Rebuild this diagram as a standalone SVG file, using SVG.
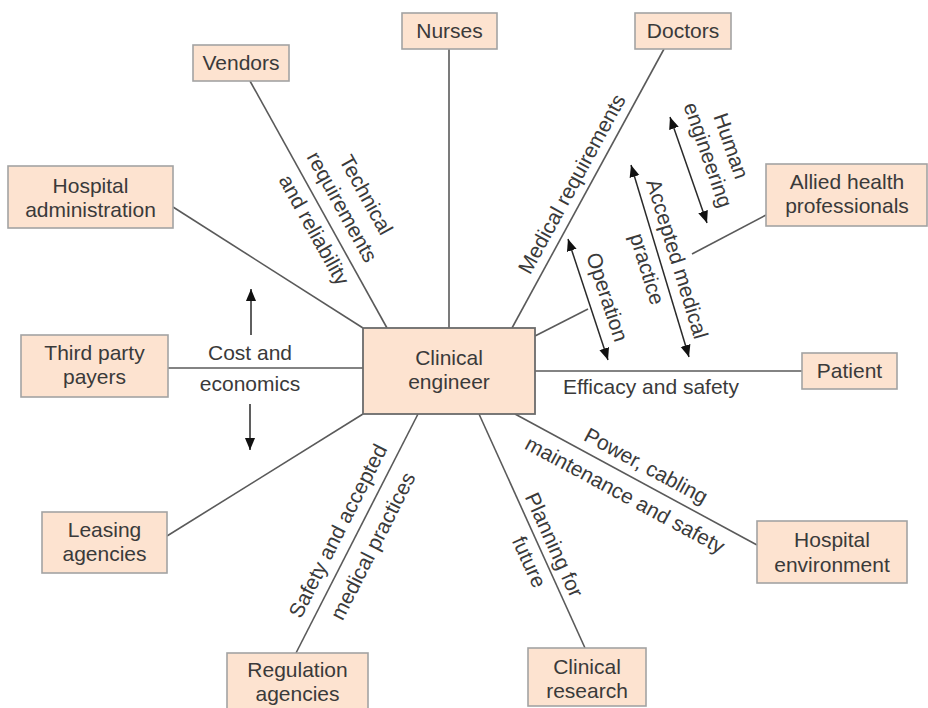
<svg xmlns="http://www.w3.org/2000/svg" width="928" height="708" viewBox="0 0 928 708">
<defs>
<style>
.box{fill:#fde3d0;stroke:#a3a3a3;stroke-width:1.6}
.cbox{fill:#fde3d0;stroke:#6b6b6b;stroke-width:1.8}
.t{font-family:"Liberation Sans",Arial,sans-serif;font-size:21px;fill:#3a3a3a;text-anchor:middle}
.ln{stroke:#5a5a5a;stroke-width:1.6;fill:none}
.ar{stroke:#2a2a2a;stroke-width:1.5;fill:none}
</style>
<marker id="ah" viewBox="0 0 10 10" refX="10" refY="5" markerWidth="12" markerHeight="12" markerUnits="userSpaceOnUse" orient="auto-start-reverse">
<path d="M0,0.8 L10,5 L0,9.2 z" fill="#111"/>
</marker>
</defs>
<rect width="928" height="708" fill="#fff"/>

<g id="connectors">
<line class="ln" x1="250" y1="81" x2="387" y2="328"/>
<line class="ln" x1="449" y1="49" x2="449" y2="328"/>
<line class="ln" x1="664" y1="49" x2="512" y2="328"/>
<line class="ln" x1="173" y1="207" x2="363" y2="328"/>
<line class="ln" x1="766" y1="215" x2="692" y2="254"/>
<line class="ln" x1="535" y1="336" x2="588" y2="309"/>
<line class="ln" x1="168" y1="368" x2="363" y2="368"/>
<line class="ln" x1="535" y1="371" x2="802" y2="371"/>
<line class="ln" x1="167" y1="536" x2="363" y2="414"/>
<line class="ln" x1="296" y1="653" x2="418" y2="414"/>
<line class="ln" x1="585" y1="648" x2="479" y2="414"/>
<line class="ln" x1="757" y1="545" x2="515" y2="414"/>
<line class="ar" x1="251" y1="335" x2="251" y2="289" marker-end="url(#ah)"/>
<line class="ar" x1="250" y1="404" x2="250" y2="450" marker-end="url(#ah)"/>
<line class="ar" x1="568" y1="239" x2="608" y2="360" marker-start="url(#ah)" marker-end="url(#ah)"/>
<line class="ar" x1="631" y1="165" x2="689" y2="357" marker-start="url(#ah)" marker-end="url(#ah)"/>
<line class="ar" x1="670" y1="117" x2="707" y2="223" marker-start="url(#ah)" marker-end="url(#ah)"/>
</g>

<g id="edge-labels">
<text class="t" transform="translate(366 195) rotate(61)" y="7">Technical</text>
<text class="t" transform="translate(342 207) rotate(61)" y="7">requirements</text>
<text class="t" transform="translate(314 230) rotate(61)" y="7">and reliability</text>
<text class="t" transform="translate(572 184) rotate(-61.4)" y="7">Medical requirements</text>
<text class="t" transform="translate(731 146) rotate(70.8)" y="7">Human</text>
<text class="t" transform="translate(708 155) rotate(70.8)" y="7">engineering</text>
<text class="t" transform="translate(677 259) rotate(73)" y="7">Accepted medical</text>
<text class="t" transform="translate(647 269) rotate(73)" y="7">practice</text>
<text class="t" transform="translate(607 297) rotate(71.7)" y="7">Operation</text>
<text class="t" x="250" y="360">Cost and</text>
<text class="t" x="250" y="391">economics</text>
<text class="t" x="651" y="394">Efficacy and safety</text>
<text class="t" transform="translate(646 466) rotate(28.4)" y="7">Power, cabling</text>
<text class="t" transform="translate(625 495) rotate(28.4)" y="7">maintenance and safety</text>
<text class="t" transform="translate(554 545) rotate(65.6)" y="7">Planning for</text>
<text class="t" transform="translate(529 562) rotate(65.6)" y="7">future</text>
<text class="t" transform="translate(338 531) rotate(-63)" y="7">Safety and accepted</text>
<text class="t" transform="translate(373 546) rotate(-63)" y="7">medical practices</text>
</g>

<g id="vendors"><rect class="box" x="193" y="45" width="96" height="36"/><text class="t" x="241" y="70">Vendors</text></g>
<g id="nurses"><rect class="box" x="402" y="13" width="95" height="36"/><text class="t" x="449.5" y="38">Nurses</text></g>
<g id="doctors"><rect class="box" x="635" y="13" width="96" height="36"/><text class="t" x="683" y="38">Doctors</text></g>
<g id="hospital-administration"><rect class="box" x="8" y="166" width="165" height="62"/><text class="t" x="90.5" y="193">Hospital</text><text class="t" x="90.5" y="217">administration</text></g>
<g id="allied-health-professionals"><rect class="box" x="766" y="164" width="161" height="62"/><text class="t" x="847" y="189">Allied health</text><text class="t" x="847" y="213">professionals</text></g>
<g id="third-party-payers"><rect class="box" x="21" y="335" width="147" height="62"/><text class="t" x="94.5" y="360">Third party</text><text class="t" x="94.5" y="384">payers</text></g>
<g id="clinical-engineer"><rect class="cbox" x="363" y="328" width="172" height="86"/><text class="t" x="449" y="365">Clinical</text><text class="t" x="449" y="389">engineer</text></g>
<g id="patient"><rect class="box" x="802" y="353" width="95" height="36"/><text class="t" x="849.5" y="378">Patient</text></g>
<g id="leasing-agencies"><rect class="box" x="42" y="512" width="125" height="61"/><text class="t" x="104.5" y="537">Leasing</text><text class="t" x="104.5" y="561">agencies</text></g>
<g id="hospital-environment"><rect class="box" x="757" y="521" width="150" height="62"/><text class="t" x="832" y="547">Hospital</text><text class="t" x="832" y="572">environment</text></g>
<g id="regulation-agencies"><rect class="box" x="227" y="653" width="141" height="60"/><text class="t" x="297.5" y="677">Regulation</text><text class="t" x="297.5" y="701">agencies</text></g>
<g id="clinical-research"><rect class="box" x="528" y="648" width="118" height="58"/><text class="t" x="587" y="674">Clinical</text><text class="t" x="587" y="698">research</text></g>
</svg>
